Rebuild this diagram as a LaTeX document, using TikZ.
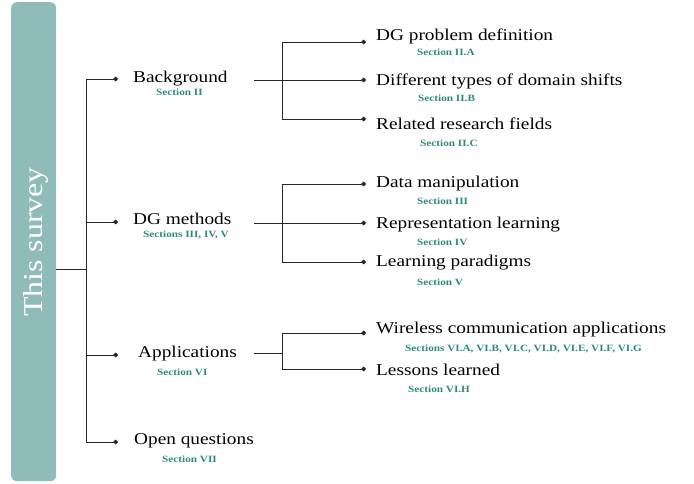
\documentclass[tikz,border=0pt]{standalone}
\usepackage{fontspec}
\setmainfont{Liberation Serif}[FakeStretch=1.17]
\usetikzlibrary{arrows.meta}
\definecolor{barcol}{RGB}{143,187,185}
\definecolor{secteal}{RGB}{47,138,124}
\definecolor{linecol}{RGB}{40,40,40}
\tikzset{
  x=1pt, y=-1pt,
  item/.style={anchor=base west, inner sep=0pt, font=\fontsize{16.5}{18}\selectfont, text=black},
  sec/.style={anchor=base west, inner sep=0pt, font=\bfseries\fontsize{9.6}{11}\selectfont, text=secteal},
  conn/.style={draw=linecol, line width=0.9pt},
  arr/.style={conn, -{Circle[length=4.6pt]}},
}
\begin{document}
\begin{tikzpicture}
\useasboundingbox (0,0) rectangle (694,483);
% bar
\node[fill=barcol, rounded corners=6pt, minimum width=45pt, minimum height=479pt, inner sep=0pt, anchor=north west] (bar) at (11,2) {};
\node[rotate=90, anchor=base, inner sep=0pt, text=white, font=\fontsize{27.3}{30}\selectfont] (title) at (42,242) {This survey};

% main trunk
\coordinate (trunk) at (86,269);
\coordinate (ttop) at (86,79);
\coordinate (tbot) at (86,442);
\draw[conn] (bar.east |- trunk) -- (trunk);
\draw[conn] (ttop) -- (tbot);

% main items
\node[item] (bg) at (133,82) {Background};
\node[sec] (bgs) at (156,95) {Section II};
\node[item] (dg) at (133,224) {DG methods};
\node[sec] (dgs) at (143,237) {Sections III, IV, V};
\node[item] (ap) at (138,357) {Applications};
\node[sec] (aps) at (157,375) {Section VI};
\node[item] (oq) at (134,444) {Open questions};
\node[sec] (oqs) at (162,462) {Section VII};

\coordinate (bgin) at (118,79);
\coordinate (dgin) at (118,222);
\coordinate (apin) at (118,355);
\coordinate (oqin) at (118,442);
\draw[arr] (ttop) -- (bgin);
\draw[arr] (ttop |- dgin) -- (dgin);
\draw[arr] (ttop |- apin) -- (apin);
\draw[arr] (tbot) -- (oqin);

% Background children
\coordinate (bgout) at (254,80);
\coordinate (bgj) at (282,80);
\coordinate (bgjt) at (282,42);
\coordinate (bgjb) at (282,119);
\draw[conn] (bgout) -- (bgj);
\draw[conn] (bgjt) -- (bgjb);
\node[item] (c1) at (376,40) {DG problem definition};
\node[sec] (c1s) at (417,55) {Section II.A};
\node[item] (c2) at (376,85) {Different types of domain shifts};
\node[sec] (c2s) at (418,101) {Section II.B};
\node[item] (c3) at (376,129) {Related research fields};
\node[sec] (c3s) at (420,146) {Section II.C};
\coordinate (c1in) at (366,42);
\coordinate (c2in) at (366,80);
\coordinate (c3in) at (366,119);
\draw[arr] (bgjt) -- (c1in);
\draw[arr] (bgj) -- (c2in);
\draw[arr] (bgjb) -- (c3in);

% DG methods children
\coordinate (dgout) at (254,223);
\coordinate (dgj) at (282,223);
\coordinate (dgjt) at (282,184);
\coordinate (dgjb) at (282,262);
\draw[conn] (dgout) -- (dgj);
\draw[conn] (dgjt) -- (dgjb);
\node[item] (d1) at (376,187) {Data manipulation};
\node[sec] (d1s) at (417,204) {Section III};
\node[item] (d2) at (376,228) {Representation learning};
\node[sec] (d2s) at (417,245) {Section IV};
\node[item] (d3) at (376,266) {Learning paradigms};
\node[sec] (d3s) at (417,285) {Section V};
\coordinate (d1in) at (366,184);
\coordinate (d2in) at (366,223);
\coordinate (d3in) at (366,262);
\draw[arr] (dgjt) -- (d1in);
\draw[arr] (dgj) -- (d2in);
\draw[arr] (dgjb) -- (d3in);

% Applications children
\coordinate (apout) at (254,353);
\coordinate (apj) at (282,353);
\coordinate (apjt) at (282,333);
\coordinate (apjb) at (282,369);
\draw[conn] (apout) -- (apj);
\draw[conn] (apjt) -- (apjb);
\node[item] (a1) at (376,333) {Wireless communication applications};
\node[sec] (a1s) at (405,351) {Sections VI.A, VI.B, VI.C, VI.D, VI.E, VI.F, VI.G};
\node[item] (a2) at (376,375) {Lessons learned};
\node[sec] (a2s) at (408,392) {Section VI.H};
\coordinate (a1in) at (366,333);
\coordinate (a2in) at (366,369);
\draw[arr] (apjt) -- (a1in);
\draw[arr] (apjb) -- (a2in);
\end{tikzpicture}
\end{document}
